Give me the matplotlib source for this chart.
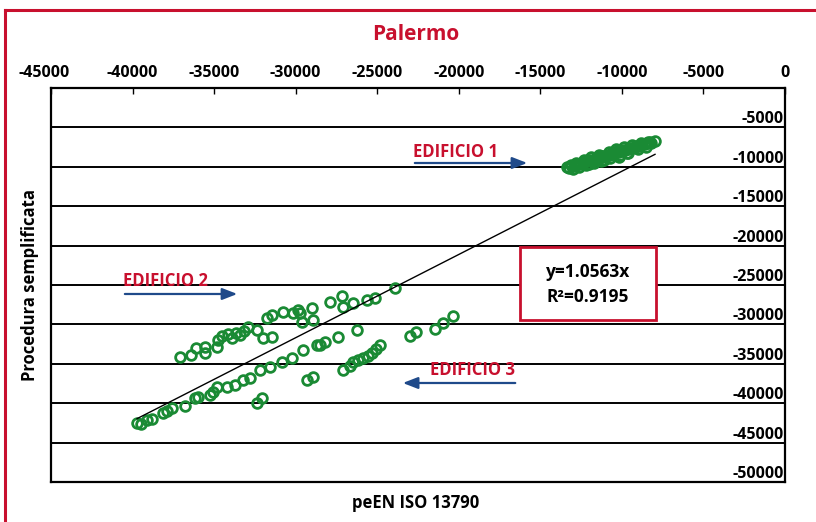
import matplotlib
matplotlib.use("Agg")
import matplotlib.pyplot as plt
from matplotlib.patches import Rectangle
from matplotlib.lines import Line2D
from matplotlib.transforms import ScaledTranslation
import numpy as np

plt.rcParams['font.family'] = ['Open Sans', 'DejaVu Sans']

# ---- data ----
ed1_x = [-13363, -13250, -13100, -12950, -12873, -12700, -12550, -12400, -12260, -12100,
         -11950, -11800, -11647, -11500, -11350, -11200, -11034, -10900, -10750, -10600,
         -10421, -10300, -10150, -10000, -9808, -9650, -9500, -9350, -9195, -9050,
         -8900, -8750, -8582, -8400, -8200, -7969, -11300, -10200, -9700, -12000,
         -13000, -12600, -12200, -11700, -11100, -10700, -10100, -9600, -9000, -8500,
         -12800, -12300, -11900, -11400, -10800, -10350, -9900, -9400, -8800, -8300]
ed1_y = [-10025, -10150, -9800, -9900, -9720, -9600, -9650, -9350, -9340, -9200,
         -9100, -9250, -8960, -8800, -8900, -8650, -8578, -8450, -8500, -8300,
         -8198, -8050, -8150, -7900, -7817, -7700, -7600, -7650, -7436, -7300,
         -7350, -7150, -7056, -6900, -7000, -6675, -9300, -8700, -8300, -9700,
         -10300, -10050, -9750, -9500, -9150, -8850, -8550, -8200, -7800, -7550,
         -9500, -9150, -8750, -8450, -8100, -7800, -7500, -7250, -6950, -6800]

ed2_x = [-37087, -36412, -36106, -35554, -35554, -34818, -34757, -34512, -34144, -33899,
         -33654, -33409, -33164, -32918, -32367, -31999, -31754, -31447, -31447, -30773,
         -30160, -29853, -29608, -28995, -28934, -29731, -27891, -27156, -27094, -26481,
         -25623, -25133, -23907, -26236]
ed2_y = [-34136, -33882, -32994, -32867, -33629, -32867, -31979, -31471, -31217, -31725,
         -31091, -31344, -30837, -30329, -30710, -31725, -29187, -31598, -28806, -28426,
         -28553, -28172, -29695, -27918, -29441, -28553, -27157, -26395, -27791, -27284,
         -26903, -26649, -25380, -30710]

ed3_x = [-39722, -39477, -39109, -38803, -38129, -37884, -37577, -36780, -36167, -35984,
         -35248, -35064, -34818, -34205, -33715, -33225, -32796, -32367, -32060, -32183,
         -31570, -30834, -30221, -29547, -28688, -29302, -28934, -28505, -28198, -27401,
         -27094, -26665, -26481, -26175, -25869, -25562, -25317, -25072, -24827, -22988,
         -22620, -21455, -20965, -20352]
ed3_y = [-42512, -42638, -42131, -42004, -41243, -40989, -40608, -40354, -39339, -39212,
         -38958, -38578, -37943, -37943, -37689, -37055, -36801, -39974, -39339, -35786,
         -35405, -34771, -34263, -33248, -32613, -37055, -36674, -32613, -32233, -31598,
         -35786, -35278, -34771, -34517, -34263, -34009, -33629, -33121, -32613, -31471,
         -30964, -30583, -29822, -28934]

slope = 1.0563
r2 = 0.9195
x_ticks = [-45000, -40000, -35000, -30000, -25000, -20000, -15000, -10000, -5000, 0]
y_ticks = [-50000, -45000, -40000, -35000, -30000, -25000, -20000, -15000, -10000, -5000]

RED = '#C8102E'
BLUE = '#1F4A8A'
GREEN = '#1A8A34'

fig = plt.figure(figsize=(8.16, 5.22), dpi=100)
ax = fig.add_axes([51/816, 1-482/522, 734/816, 394/522])

all_x = np.array(ed1_x + ed2_x + ed3_x)
all_y = np.array(ed1_y + ed2_y + ed3_y)
ax.plot(all_x, all_y, linestyle='none', marker='o', markersize=7,
        markerfacecolor='none', markeredgecolor=GREEN, markeredgewidth=2.0, zorder=3)

xl = np.array([all_x.min(), all_x.max()])
ax.plot(xl, slope * xl, color='black', lw=1.0, zorder=4)

ax.set_xlim(-45000, 0)
ax.set_ylim(-50000, 0)
ax.set_xticks(x_ticks)
ax.set_yticks(y_ticks)
ax.xaxis.tick_top()
ax.tick_params(axis='x', direction='in', length=4, width=1, pad=5, labelsize=11.5)
ax.set_xticklabels([str(v) for v in x_ticks], fontweight='bold')
ax.tick_params(axis='y', left=False, right=False, labelleft=False, labelright=True,
               pad=-4.5, labelsize=11.5)
ax.set_yticklabels([str(v) for v in y_ticks], fontweight='bold')
for lab in ax.get_yticklabels():
    lab.set_ha('right')
    lab.set_va('bottom')
first = ax.get_xticklabels()[0]
first.set_transform(first.get_transform() + ScaledTranslation(-7/100, 0, fig.dpi_scale_trans))
for s in ax.spines.values():
    s.set_linewidth(1.6)
    s.set_color('black')
ax.grid(axis='y', color='black', lw=1.4)
ax.set_axisbelow(True)

# title / labels
fig.text(416/816, 1-35/522, 'Palermo', color=RED, fontsize=15, fontweight='bold',
         ha='center', va='center')
fig.text(416/816, 1-503/522, 'peEN ISO 13790', fontsize=12, fontweight='bold',
         ha='center', va='center')
fig.text(30/816, 1-285/522, 'Procedura semplificata', fontsize=12, fontweight='bold',
         ha='center', va='center', rotation=90)

# equation box
ax.add_patch(Rectangle((-16245, -29441), 8337, 9264, facecolor='white',
                       edgecolor=RED, lw=2, zorder=5))
ax.text(-12076, -23350, 'y=1.0563x', ha='center', va='center', fontsize=12.5,
        fontweight='bold', zorder=6)
ax.text(-12076, -26522, 'R²=0.9195', ha='center', va='center', fontsize=12.5,
        fontweight='bold', zorder=6)

# annotations
arrow_kw = dict(arrowstyle='-|>,head_length=0.9,head_width=0.35', color=BLUE, lw=1.6)
ax.annotate('', xy=(-15632, -9518), xytext=(-22865, -9518), arrowprops=arrow_kw, zorder=6)
ax.text(-20229, -8122, 'EDIFICIO 1', color=RED, fontsize=12, fontweight='bold',
        ha='center', va='center', zorder=6)
ax.annotate('', xy=(-33409, -26141), xytext=(-40642, -26141), arrowprops=arrow_kw, zorder=6)
ax.text(-38006, -24492, 'EDIFICIO 2', color=RED, fontsize=12, fontweight='bold',
        ha='center', va='center', zorder=6)
ax.annotate('', xy=(-23601, -37436), xytext=(-16367, -37436), arrowprops=arrow_kw, zorder=6)
ax.text(-19187, -35786, 'EDIFICIO 3', color=RED, fontsize=12, fontweight='bold',
        ha='center', va='center', zorder=6)

# outer red frame (left & top)
fig.add_artist(Line2D([5/816, 5/816], [0, 1-10/522], color=RED, lw=2.2,
                      transform=fig.transFigure))
fig.add_artist(Line2D([5/816, 1], [1-10/522, 1-10/522], color=RED, lw=2.2,
                      transform=fig.transFigure))

fig.savefig('out.png', dpi=100)
